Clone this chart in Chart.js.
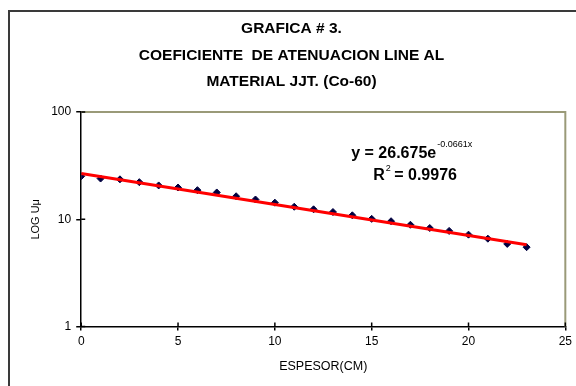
<!DOCTYPE html>
<html>
<head>
<meta charset="utf-8">
<script src="https://cdn.jsdelivr.net/npm/chart.js@4"></script>
<style>
  html, body { margin: 0; padding: 0; background: #fff; }
  #wrap { width: 576px; height: 386px; }
</style>
</head>
<body>
<div id="wrap"><canvas id="grafica"></canvas></div>
<script>
// Espesor (cm) y valores medidos
const espesor = [0, 1, 2, 3, 4, 5, 6, 7, 8, 9, 10, 11, 12, 13, 14, 15, 16, 17, 18, 19, 20, 21, 22, 23];
const valores = [25.2, 24.0, 23.6, 22.2, 20.7, 19.8, 18.7, 17.8, 16.4, 15.3, 14.3, 13.1,
                 12.4, 11.7, 10.9, 10.1, 9.6, 8.9, 8.3, 7.8, 7.2, 6.6, 5.9, 5.5];

// Linea de tendencia (extremos)
const tendenciaX = [0, 23];
const tendenciaY = [26.7, 5.8];

const ticksX = [0, 5, 10, 15, 20, 25];
const ticksY = [1, 10, 100];

const titulo = ['GRAFICA # 3.', 'COEFICIENTE  DE ATENUACION LINE AL', 'MATERIAL JJT. (Co-60)'];

const FUENTE = "'Liberation Sans', Arial, sans-serif";

// Marco exterior, borde del area y marcas de cruce
const marco = {
  id: 'marco',
  beforeDraw(chart) {
    const ctx = chart.ctx;
    ctx.save();
    ctx.fillStyle = '#fff';
    ctx.fillRect(0, 0, chart.width, chart.height);
    ctx.strokeStyle = '#3a3a3a';
    ctx.lineWidth = 2;
    ctx.beginPath();
    ctx.moveTo(9, chart.height);
    ctx.lineTo(9, 11);
    ctx.lineTo(chart.width, 11);
    ctx.stroke();
    ctx.restore();
  },
  afterDraw(chart) {
    const ctx = chart.ctx;
    const a = chart.chartArea;
    const sx = chart.scales.x, sy = chart.scales.y;
    ctx.save();
    ctx.strokeStyle = '#9a9a78';
    ctx.lineWidth = 2;
    ctx.beginPath();
    ctx.moveTo(a.left, a.top);
    ctx.lineTo(a.right, a.top);
    ctx.lineTo(a.right, a.bottom);
    ctx.stroke();

    ctx.strokeStyle = '#000';
    ctx.lineWidth = 1.5;
    ctx.beginPath();
    ticksX.forEach(v => {
      const px = sx.getPixelForValue(v);
      ctx.moveTo(px, a.bottom);
      ctx.lineTo(px, a.bottom - 4);
    });
    ticksY.forEach(v => {
      const py = sy.getPixelForValue(v);
      ctx.moveTo(a.left, py);
      ctx.lineTo(a.left + 4, py);
    });
    ctx.stroke();

    // Ecuacion de la tendencia
    ctx.fillStyle = '#000';
    ctx.textBaseline = 'alphabetic';
    ctx.font = 'bold 16px ' + FUENTE;
    const x0 = a.left + 270;
    const y0 = a.top + 46;
    const base = 'y = 26.675e';
    ctx.fillText(base, x0, y0);
    const w = ctx.measureText(base).width;
    ctx.font = '9px ' + FUENTE;
    ctx.fillText('-0.0661x', x0 + w + 1, y0 - 11);
    ctx.font = 'bold 16px ' + FUENTE;
    const rx = x0 + 22;
    const ry = y0 + 22;
    ctx.fillText('R', rx, ry);
    const wr = ctx.measureText('R').width;
    ctx.font = '9px ' + FUENTE;
    ctx.fillText('2', rx + wr + 1, ry - 9);
    ctx.font = 'bold 16px ' + FUENTE;
    ctx.fillText(' = 0.9976', rx + wr + 5, ry);
    ctx.restore();
  }
};

const ctx = document.getElementById('grafica').getContext('2d');
new Chart(ctx, {
  type: 'scatter',
  data: {
    datasets: [
      {
        type: 'line',
        label: 'Tendencia',
        data: tendenciaX.map((x, i) => ({ x: x, y: tendenciaY[i] })),
        borderColor: '#ff0000',
        borderWidth: 3,
        pointRadius: 0,
        fill: false,
        order: 0
      },
      {
        label: 'Medidas',
        data: espesor.map((x, i) => ({ x: x, y: valores[i] })),
        pointStyle: 'rectRot',
        pointRadius: 3.5,
        backgroundColor: '#000040',
        borderColor: '#000040',
        borderWidth: 1,
        order: 1
      }
    ]
  },
  options: {
    responsive: true,
    maintainAspectRatio: false,
    animation: false,
    layout: { padding: { left: 16, right: 9, top: 4, bottom: 12 } },
    plugins: {
      legend: { display: false },
      tooltip: { enabled: false },
      title: {
        display: true,
        text: titulo,
        color: '#000',
        font: { family: FUENTE, size: 15.5, weight: 'bold', lineHeight: 1.7 },
        padding: { top: 12, bottom: 17 }
      }
    },
    scales: {
      x: {
        type: 'linear',
        min: 0,
        max: 25,
        afterBuildTicks: s => { s.ticks = ticksX.map(v => ({ value: v })); },
        border: { color: '#000', width: 1.5 },
        grid: { drawOnChartArea: false, color: '#000', tickLength: 4, lineWidth: 1.5 },
        ticks: { color: '#000', font: { family: FUENTE, size: 12 }, padding: 4 },
        title: {
          display: true,
          text: 'ESPESOR(CM)',
          color: '#000',
          font: { family: FUENTE, size: 12.5 },
          padding: { top: 6, bottom: 0 }
        }
      },
      y: {
        type: 'logarithmic',
        min: 1,
        max: 100,
        afterBuildTicks: s => { s.ticks = ticksY.map(v => ({ value: v })); },
        border: { color: '#000', width: 1.5 },
        grid: { drawOnChartArea: false, color: '#000', tickLength: 5, lineWidth: 1.5 },
        ticks: {
          color: '#000',
          font: { family: FUENTE, size: 12 },
          padding: 5,
          callback: v => String(v)
        },
        title: {
          display: true,
          text: 'LOG Uμ',
          color: '#000',
          font: { family: FUENTE, size: 11 },
          padding: { top: 13, bottom: 4 }
        }
      }
    }
  },
  plugins: [marco]
});
</script>
</body>
</html>
